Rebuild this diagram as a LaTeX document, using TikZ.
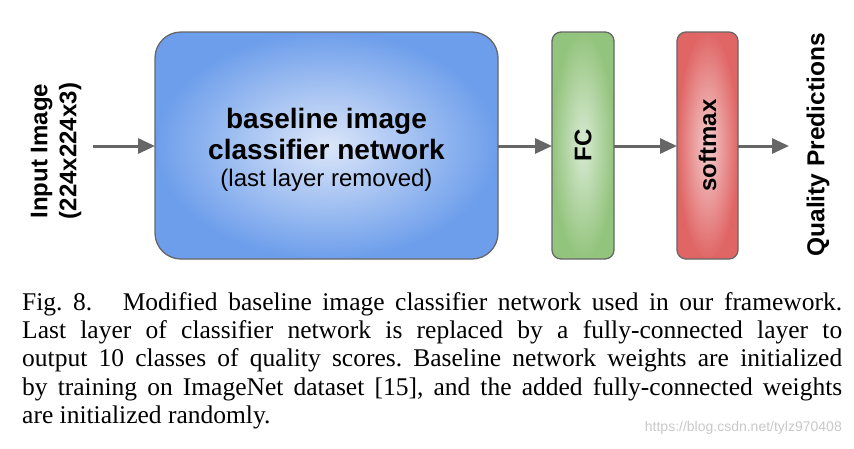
\documentclass[tikz,border=0pt]{standalone}
\usepackage{fontspec}
\setmainfont{Liberation Serif}
\newfontfamily\diagfont{Liberation Sans}
\usetikzlibrary{arrows.meta}
\definecolor{bordergray}{HTML}{666666}
\definecolor{blueedge}{HTML}{6D9EEB}
\definecolor{bluecenter}{HTML}{DCE6F9}
\definecolor{greenedge}{HTML}{93C47D}
\definecolor{greencenter}{HTML}{D9EAD3}
\definecolor{rededge}{HTML}{E06666}
\definecolor{redcenter}{HTML}{F4CCCC}
\definecolor{wmgray}{HTML}{C8C8C8}
\tikzset{
  layerbox/.style={draw=bordergray, line width=1.3pt, inner sep=0pt, outer sep=0pt},
  flow/.style={draw=bordergray, line width=3pt, -{Triangle[length=17pt,width=15pt]}},
  btext/.style={font=\diagfont\bfseries\fontsize{24}{29}\selectfont, text=black},
}
\begin{document}
\begin{tikzpicture}[x=1pt,y=-1pt]
\useasboundingbox (0,0) rectangle (854,448);
% boxes
\node[layerbox, rounded corners=26pt, minimum width=343pt, minimum height=227pt,
      inner color=bluecenter, outer color=blueedge] (base) at (326.5,145.5) {};
\node[layerbox, rounded corners=9pt, minimum width=62pt, minimum height=227pt,
      inner color=greencenter, outer color=greenedge] (fc) at (583,145.5) {};
\node[layerbox, rounded corners=9pt, minimum width=61pt, minimum height=227pt,
      inner color=redcenter, outer color=rededge] (sm) at (707.5,145.5) {};
% box texts
\node[btext, align=center, font=\diagfont\bfseries\fontsize{28}{32}\selectfont] (basetxt) at (326.5,150) {baseline image\\[-1pt]classifier network\\[-5pt]{\mdseries\fontsize{24}{28}\selectfont (last layer removed)}};
\node[btext, rotate=90] (fctxt) at (fc.center) {FC};
\node[btext, rotate=90] (smtxt) at (sm.center) {softmax};
% side labels
\node[btext, rotate=90, align=center] (input) at (56,151) {Input Image\\(224x224x3)};
\node[btext, rotate=90, font=\diagfont\bfseries\fontsize{24.5}{29}\selectfont] (qual) at (818,145) {Quality Predictions};
\coordinate (inl) at (93,146);
\coordinate (outr) at (789,146);
% arrows
\draw[flow] (inl) -- (inl -| base.west);
\draw[flow] (base.east |- inl) -- (fc.west |- inl);
\draw[flow] (fc.east |- inl) -- (sm.west |- inl);
\draw[flow] (sm.east |- inl) -- (outr);
% caption
\node[anchor=base west, inner sep=0pt] (cap) at (22,310)
{\parbox[t]{820pt}{\fontsize{25.5}{28.4}\selectfont\frenchspacing
Fig.~8.\hspace{1.2em}Modified baseline image classifier network used in our framework.\linebreak
Last layer of classifier network is replaced by a fully-connected layer to\linebreak
output 10 classes of quality scores. Baseline network weights are initialized\linebreak
by training on ImageNet dataset [15], and the added fully-connected weights\linebreak
are initialized randomly.}};
\node[anchor=east, inner sep=0pt, text=wmgray, font=\diagfont\fontsize{14}{16}\selectfont] (wm) at (842,428) {https://blog.csdn.net/tylz970408};
\end{tikzpicture}
\end{document}
